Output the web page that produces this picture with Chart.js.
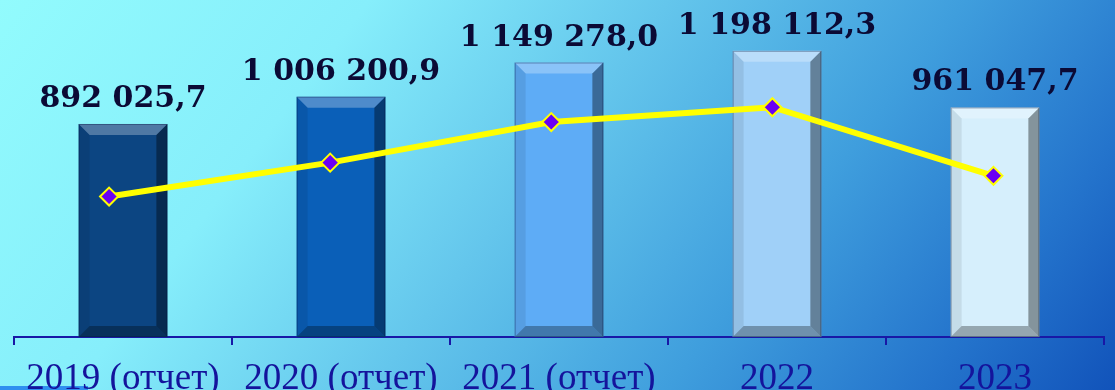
<!DOCTYPE html>
<html>
<head>
<meta charset="utf-8">
<script src="https://cdn.jsdelivr.net/npm/chart.js@4/dist/chart.umd.min.js"></script>
<style>
  html, body { margin: 0; padding: 0; overflow: hidden; background: #5ab8e6; }
  #wrap { width: 1115px; height: 390px; position: relative; }
</style>
</head>
<body>
<div id="wrap"><canvas id="c" width="1115" height="390"></canvas></div>
<script>
// ---- data ----
const categories = ['2019 (отчет)', '2020 (отчет)', '2021 (отчет)', '2022', '2023'];
const barValues = [892025.7, 1006200.9, 1149278.0, 1198112.3, 961047.7];
const lineValues = [588000, 730000, 900000, 962000, 675000];
const barColors = ['#0c4582', '#0a5fb8', '#5eacf6', '#a0d0f8', '#d6effc'];

function fmt(v) {
  const parts = v.toFixed(1).split('.');
  return parts[0].replace(/\B(?=(\d{3})+(?!\d))/g, ' ') + ',' + parts[1];
}

const bgPlugin = {
  id: 'bg',
  beforeDraw(chart) {
    const ctx = chart.ctx;
    const w = chart.width, h = chart.height;
    ctx.save();
    const g = ctx.createLinearGradient(120, -160, 1060, 560);
    g.addColorStop(0, '#92fbfd');
    g.addColorStop(0.25, '#86eefb');
    g.addColorStop(0.45, '#64c6ec');
    g.addColorStop(0.65, '#3f9edd');
    g.addColorStop(0.82, '#2474cc');
    g.addColorStop(1, '#0a46b3');
    ctx.fillStyle = g;
    ctx.fillRect(0, 0, w, h);
    ctx.fillStyle = '#2e8ff0';
    ctx.fillRect(0, 386, 88, 4);
    ctx.restore();
  }
};

function poly(ctx, pts, color) {
  ctx.beginPath();
  ctx.moveTo(pts[0][0], pts[0][1]);
  for (let i = 1; i < pts.length; i++) ctx.lineTo(pts[i][0], pts[i][1]);
  ctx.closePath();
  ctx.fillStyle = color;
  ctx.fill();
}

const bevelPlugin = {
  id: 'bevel',
  afterDatasetDraw(chart, args) {
    if (args.index !== 0) return;
    const ctx = chart.ctx;
    const meta = args.meta;
    ctx.save();
    meta.data.forEach((bar) => {
      const p = bar.getProps(['x', 'y', 'base', 'width'], true);
      const L = p.x - p.width / 2, R = p.x + p.width / 2, T = p.y, B = p.base;
      const b = 11;
      poly(ctx, [[L, T], [R, T], [R - b, T + b], [L + b, T + b]], 'rgba(255,255,255,0.28)');
      poly(ctx, [[L, T], [L + b, T + b], [L + b, B - b], [L, B]], 'rgba(0,0,0,0.08)');
      poly(ctx, [[R, T], [R, B], [R - b, B - b], [R - b, T + b]], 'rgba(0,0,0,0.38)');
      poly(ctx, [[L, B], [R, B], [R - b, B - b], [L + b, B - b]], 'rgba(0,0,0,0.3)');
      ctx.strokeStyle = 'rgba(0,20,60,0.35)';
      ctx.lineWidth = 1;
      ctx.strokeRect(L + 0.5, T + 0.5, p.width - 1, B - T - 1);
    });
    ctx.restore();
  }
};

const labelPlugin = {
  id: 'vlabels',
  afterDatasetsDraw(chart) {
    const ctx = chart.ctx;
    const meta = chart.getDatasetMeta(0);
    ctx.save();
    ctx.font = 'bold 30px "DejaVu Serif"';
    ctx.fillStyle = '#0b0a35';
    ctx.textAlign = 'center';
    ctx.textBaseline = 'alphabetic';
    meta.data.forEach((bar, i) => {
      ctx.fillText(fmt(barValues[i]), bar.x, bar.y - 17);
    });
    ctx.restore();
  }
};

new Chart(document.getElementById('c'), {
  type: 'bar',
  data: {
    labels: categories,
    datasets: [
      {
        type: 'bar',
        data: barValues,
        backgroundColor: barColors,
        borderWidth: 0,
        grouped: false,
        categoryPercentage: 1,
        barPercentage: 0.407,
        order: 2,
        xAxisID: 'x',
        yAxisID: 'y'
      },
      {
        type: 'line',
        data: lineValues.map((v, i) => ({ x: i, y: v })),
        borderColor: '#ffff00',
        borderWidth: 6,
        pointStyle: 'rectRot',
        pointRadius: 9,
        pointBackgroundColor: '#6a00f4',
        pointBorderColor: '#ffff00',
        pointBorderWidth: 2,
        tension: 0,
        order: 1,
        xAxisID: 'x2',
        yAxisID: 'y',
        clip: false
      }
    ]
  },
  options: {
    responsive: false,
    animation: false,
    events: [],
    layout: { padding: { left: 14, right: 7, top: 3, bottom: 0 } },
    plugins: { legend: { display: false }, tooltip: { enabled: false } },
    scales: {
      x: {
        type: 'category',
        offset: true,
        grid: { display: true, offset: true, drawOnChartArea: false, drawTicks: true, tickLength: 8, color: '#1818a6', lineWidth: 2 },
        border: { display: true, color: '#1818a6', width: 2 },
        ticks: { color: '#14149c', font: { family: '"Liberation Serif"', size: 37 }, padding: 12, maxRotation: 0, autoSkip: false },
        afterFit(scale) { scale.height = 53; }
      },
      x2: {
        type: 'linear',
        display: false,
        offset: false,
        grid: { offset: false },
        min: -0.43,
        max: 4.5
      },
      y: {
        display: false,
        min: 0,
        max: 1365000
      }
    }
  },
  plugins: [bgPlugin, bevelPlugin, labelPlugin]
});
</script>
</body>
</html>
